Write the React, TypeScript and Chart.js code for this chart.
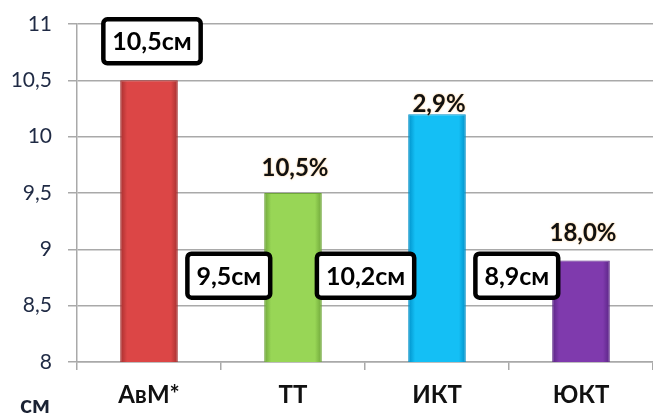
import React, { useEffect, useRef } from 'react';
import { Chart, registerables } from 'chart.js';

Chart.register(...registerables);

// ---- data ----
const categories = ['АвМ*', 'ТТ', 'ИКТ', 'ЮКТ'];
const values = [10.5, 9.5, 10.2, 8.9];
const valueLabels = ['10,5см', '9,5см', '10,2см', '8,9см'];
const changeLabels = ['', '10,5%', '2,9%', '18,0%'];
const yMin = 8;
const yMax = 11;
const yStep = 0.5;
const unitLabel = 'см';

// ---- styles ----
const barEdge = ['#a52f2f', '#6fa63a', '#0090c8', '#5a2585'];
const barMid = ['#dc4646', '#98d656', '#14bff5', '#7f3aad'];
const changeOffsets = [0, 25, 10, 27];
const FONT = 'Lato, "Open Sans", sans-serif';
const GRID = '#a9a9a9';

const labelPlugin = {
  id: 'customLabels',
  afterDatasetsDraw(chart: any) {
    const ctx = chart.ctx as CanvasRenderingContext2D;
    const meta = chart.getDatasetMeta(0);
    const yScale = chart.scales.y;
    ctx.save();
    // value boxes
    meta.data.forEach((bar: any, i: number) => {
      const text = valueLabels[i];
      ctx.font = `bold 25px ${FONT}`;
      const tw = ctx.measureText(text).width;
      const bw = tw + 18;
      const bh = 44;
      let cx: number, cy: number;
      if (i === 0) {
        cx = bar.x + 3;
        cy = yScale.getPixelForValue(values[0]) - 39;
      } else {
        cx = bar.x - bar.width / 2 + 6 - bw / 2;
        cy = yScale.getPixelForValue(8.5) - 30;
      }
      ctx.beginPath();
      (ctx as any).roundRect(cx - bw / 2, cy - bh / 2, bw, bh, 4);
      ctx.fillStyle = '#ffffff';
      ctx.fill();
      ctx.lineWidth = 4.5;
      ctx.strokeStyle = '#000000';
      ctx.stroke();
      ctx.fillStyle = '#000000';
      ctx.textAlign = 'center';
      ctx.textBaseline = 'middle';
      ctx.fillText(text, cx, cy + 1);
    });
    // percentage labels
    meta.data.forEach((bar: any, i: number) => {
      const text = changeLabels[i];
      if (!text) return;
      ctx.font = `bold 24px ${FONT}`;
      ctx.textAlign = 'center';
      ctx.textBaseline = 'middle';
      ctx.shadowColor = 'rgba(255,170,60,0.7)';
      ctx.shadowBlur = 2;
      ctx.fillStyle = '#111111';
      ctx.fillText(text, bar.x + 2, bar.y - changeOffsets[i]);
      ctx.shadowBlur = 0;
      ctx.shadowColor = 'transparent';
    });
    // unit label
    ctx.font = `bold 25px ${FONT}`;
    ctx.textAlign = 'left';
    ctx.textBaseline = 'alphabetic';
    ctx.fillStyle = '#1a2233';
    ctx.fillText(unitLabel, 20, 413);
    ctx.restore();
  },
};

export default function App() {
  const ref = useRef<HTMLCanvasElement | null>(null);
  useEffect(() => {
    if (!ref.current) return;
    const chart = new Chart(ref.current, {
      type: 'bar',
      data: {
        labels: categories,
        datasets: [
          {
            data: values,
            backgroundColor: (c: any) => {
              const ch = c.chart;
              const i = c.dataIndex;
              if (!ch.chartArea || i === undefined) return barMid[i ?? 0];
              const xs = ch.scales.x;
              const cx = xs.getPixelForValue(i);
              const w = (xs.width / categories.length) * 0.4;
              const g = ch.ctx.createLinearGradient(cx - w / 2, 0, cx + w / 2, 0);
              g.addColorStop(0, barEdge[i]);
              g.addColorStop(0.12, barMid[i]);
              g.addColorStop(0.88, barMid[i]);
              g.addColorStop(1, barEdge[i]);
              return g;
            },
            borderColor: barEdge,
            borderWidth: 1,
            categoryPercentage: 0.8,
            barPercentage: 0.5,
          },
        ],
      },
      options: {
        animation: false,
        responsive: true,
        maintainAspectRatio: false,
        layout: { padding: { top: 24, right: 0, left: 0, bottom: 0 } },
        plugins: { legend: { display: false }, tooltip: { enabled: false } },
        scales: {
          y: {
            min: yMin,
            max: yMax,
            afterFit: (s: any) => {
              s.width = 77;
              s.paddingTop = 0;
              s.paddingBottom = 0;
            },
            ticks: {
              stepSize: yStep,
              padding: 16,
              color: '#1f2a44',
              font: { family: FONT, size: 21 },
              callback: (v: any) => String(v).replace('.', ','),
            },
            grid: { color: GRID, lineWidth: 1.5, tickLength: 9 },
            border: { color: GRID, width: 1.5 },
          },
          x: {
            afterFit: (s: any) => {
              s.height = 53;
            },
            ticks: {
              padding: 11,
              color: '#111111',
              font: { family: FONT, size: 24, weight: 'bold' },
            },
            grid: { drawOnChartArea: false, color: GRID, lineWidth: 1.5, tickLength: 8 },
            border: { color: GRID, width: 1.5 },
          },
        },
      },
      plugins: [labelPlugin],
    });
    return () => chart.destroy();
  }, []);
  return (
    <div style={{ position: 'absolute', left: 0, top: 0, width: 653, height: 415, background: '#fff' }}>
      <canvas ref={ref} />
    </div>
  );
}
